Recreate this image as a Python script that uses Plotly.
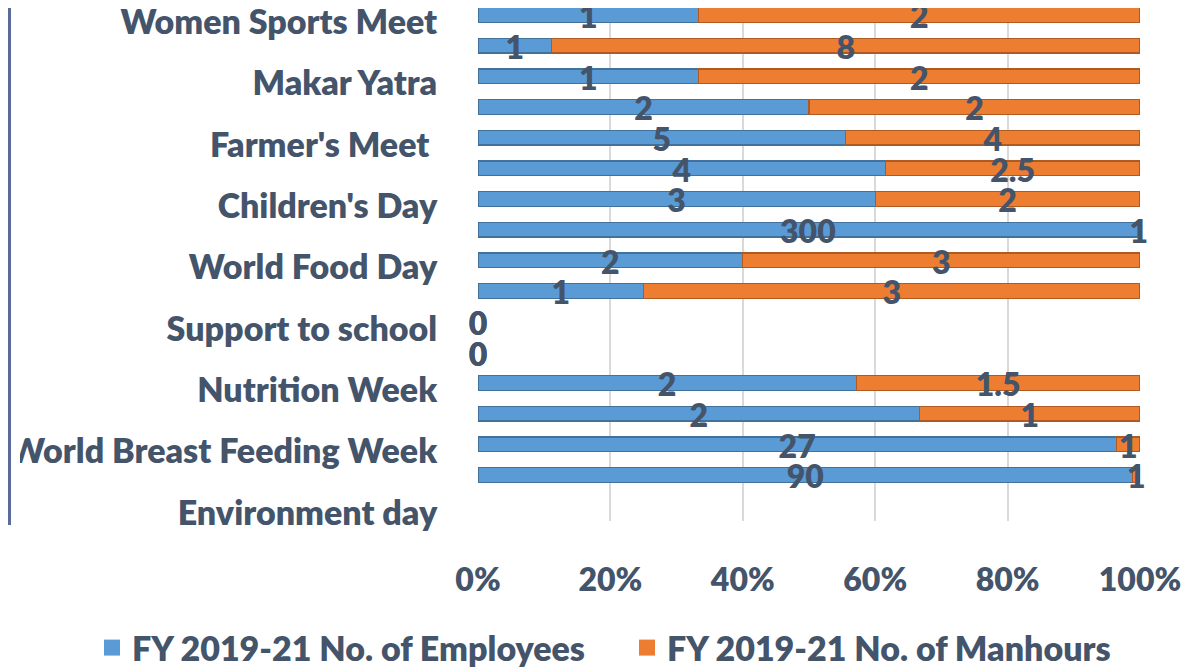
import plotly.graph_objects as go

# Data (bottom to top)
categories = ["Environment day", "", "World Breast Feeding Week", "", "Nutrition Week", "",
              "Support to school", "", "World Food Day", "", "Children's Day", "",
              "Farmer's Meet ", "", "Makar Yatra", "", "Women Sports Meet"]
employees = [None, 90, 27, 2, 2, 0, 0, 1, 2, 300, 3, 4, 5, 2, 1, 1, 1]
manhours = [None, 1, 1, 1, 1.5, 0, 0, 3, 3, 1, 2, 2.5, 4, 2, 2, 8, 2]
series_names = ["FY 2019-21 No. of Employees", "FY 2019-21 No. of Manhours"]
x_ticks = [0, 20, 40, 60, 80, 100]
x_tick_labels = ["0%", "20%", "40%", "60%", "80%", "100%"]

BLUE, BLUE_EDGE = "#5B9BD5", "#41719C"
ORANGE, ORANGE_EDGE = "#ED7D31", "#AE5A21"
TXT = "#44546A"
FONT = "Lato"
W8 = 800

# figure is drawn inside the page body (8px default margin)
FIG_W, FIG_H = 1195, 660
L, R, T, B = 470, 63, 0, 147
PLOT_W = FIG_W - L - R
PLOT_H = FIG_H - T - B

ypos = list(range(len(categories)))

fig = go.Figure()
fig.add_trace(go.Bar(y=ypos, x=employees, orientation="h", name=series_names[0],
                     marker=dict(color=BLUE, line=dict(color=BLUE_EDGE, width=1.2)),
                     width=0.48, hoverinfo="skip", showlegend=False))
fig.add_trace(go.Bar(y=ypos, x=manhours, orientation="h", name=series_names[1],
                     marker=dict(color=ORANGE, line=dict(color=ORANGE_EDGE, width=1.2)),
                     width=0.48, hoverinfo="skip", showlegend=False))

# legend entries with larger square keys
for nm, col in zip(series_names, [BLUE, ORANGE]):
    fig.add_trace(go.Scatter(x=[None], y=[None], mode="markers", name=nm,
                             marker=dict(symbol="square", size=19, color=col)))

# data labels at segment centres (percent of the row total)
lab_x, lab_y, lab_t = [], [], []
for i, (e, m) in enumerate(zip(employees, manhours)):
    if e is None or m is None:
        continue
    tot = e + m
    if tot == 0:
        pe, pm = 0, 0
    else:
        pe = e / tot * 100 / 2
        pm = (e + m / 2) / tot * 100
    for xv, v in ((pe, e), (pm, m)):
        lab_x.append(xv)
        lab_y.append(i - 0.17)
        lab_t.append(f"{v:g}")
fig.add_trace(go.Scatter(x=lab_x, y=lab_y, text=lab_t, mode="text",
                         textposition="middle center", showlegend=False, hoverinfo="skip",
                         cliponaxis=False,
                         textfont=dict(family=FONT, size=32, color=TXT, weight=W8)))

px_per_unit = 30.67
y_top = 16 + 7 / px_per_unit

fig.update_layout(
    width=FIG_W, height=FIG_H,
    margin=dict(l=L, r=R, t=T, b=B, autoexpand=False),
    barmode="stack", barnorm="percent",
    plot_bgcolor="white", paper_bgcolor="white",
    font=dict(family=FONT, size=32, color=TXT, weight=W8),
    showlegend=True,
    legend=dict(orientation="h", xref="paper", yref="paper",
                x=(84 - L) / PLOT_W, y=-(640 - PLOT_H) / PLOT_H,
                xanchor="left", yanchor="middle",
                font=dict(size=34, color=TXT, family=FONT, weight=W8),
                itemsizing="trace", bgcolor="rgba(0,0,0,0)", traceorder="normal",
                itemwidth=30, entrywidth=490),
    xaxis=dict(range=[0, 100], tickvals=x_ticks, ticktext=x_tick_labels, showgrid=True,
               gridcolor="#D9D9D9", gridwidth=1.5, zeroline=False, showline=False,
               ticks="outside", ticklen=31, tickcolor="rgba(0,0,0,0)", automargin=False,
               ticklabeloverflow="allow",
               tickfont=dict(family=FONT, size=32, color=TXT, weight=W8)),
    yaxis=dict(range=[-0.5, y_top], tickvals=ypos, ticktext=categories, showgrid=False,
               zeroline=False, showline=False, ticks="outside", ticklen=33,
               tickcolor="rgba(0,0,0,0)", ticklabelshift=7, automargin=False,
               ticklabeloverflow="allow",
               tickfont=dict(family=FONT, size=34, color=TXT, weight=W8)),
    shapes=[
        dict(type="rect", xref="paper", yref="paper", x0=(0 - L) / PLOT_W, x1=(12 - L) / PLOT_W,
             y0=(PLOT_H - 470) / PLOT_H, y1=(PLOT_H - 425) / PLOT_H,
             fillcolor="white", line=dict(width=0), layer="above"),
        dict(type="line", xref="paper", yref="paper", x0=(1.5 - L) / PLOT_W, x1=(1.5 - L) / PLOT_W,
             y0=(PLOT_H - 517) / PLOT_H, y1=1, line=dict(color="#5A6B9A", width=3), layer="above"),
    ],
)

fig.write_html("out.html")
